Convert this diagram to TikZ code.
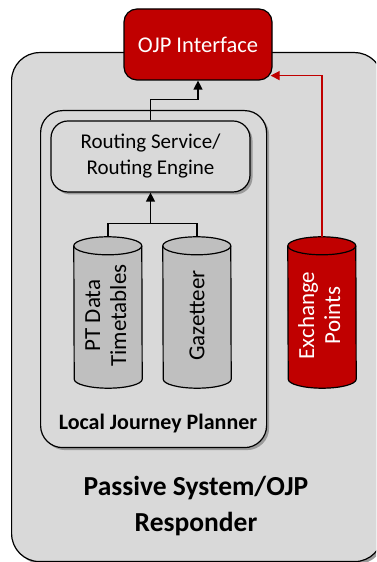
\documentclass[tikz,border=0pt]{standalone}
\usepackage{fontspec}
\setmainfont{Carlito}
\usetikzlibrary{arrows.meta,shadows,calc}
\definecolor{bg}{HTML}{D9D9D9}
\definecolor{cylgrey}{HTML}{BFBFBF}
\definecolor{ojpred}{HTML}{C00000}
\definecolor{shadowgrey}{HTML}{9A9A9A}
\begin{document}
\begin{tikzpicture}[x=1pt,y=1pt,
  boxline/.style={draw=black, line width=1.2pt},
  shadowed/.style={drop shadow={shadow xshift=2.5pt, shadow yshift=-2.5pt, fill=shadowgrey, opacity=1}},
  outerbox/.style={boxline, fill=bg, rounded corners=28pt, shadowed, inner sep=0pt, minimum width=371pt, minimum height=509pt},
  ljpbox/.style={boxline, fill=bg, rounded corners=22pt, shadowed, inner sep=0pt, minimum width=226pt, minimum height=337pt},
  routbox/.style={boxline, fill=bg, rounded corners=17pt, shadowed, inner sep=0pt, minimum width=199pt, minimum height=71pt, align=center, font=\fontsize{21}{26}\selectfont},
  ojpbox/.style={boxline, fill=ojpred, rounded corners=13pt, inner sep=0pt, minimum width=148pt, minimum height=71pt, text=white, font=\fontsize{22.5}{26}\selectfont},
  cylholder/.style={inner sep=0pt, minimum width=68pt, minimum height=151pt},
  cyltext/.style={inner sep=0pt, font=\fontsize{23}{26}\selectfont},
  conn/.style={draw=black, line width=1.2pt, -{Triangle[width=9pt,length=9pt]}},
  plainline/.style={draw=black, line width=1.2pt},
  redconn/.style={draw=ojpred, line width=1.2pt, -{Triangle[width=9pt,length=9pt]}}
]
\useasboundingbox (0,0) rectangle (376,562);
\clip (0,0) rectangle (376,562);
\fill[white] (0,0) rectangle (376,562);
% outer box
\node[outerbox, anchor=north west] (outer) at (11,510) {};
% local journey planner box
\node[ljpbox, anchor=north west] (ljp) at (40,452) {};
% routing box
\node[routbox] (rout) at (150.5,405.5) {Routing Service/\\Routing Engine};
% OJP interface
\node[ojpbox] (ojp) at (198,517.5) {OJP Interface};
% cylinders
\node[cylholder] (ptd) at (108,249.5) {};
\node[cylholder] (gaz) at (197,249.5) {};
\node[cylholder] (exch) at (322,249.5) {};
\foreach \n/\c in {ptd/cylgrey, gaz/cylgrey, exch/ojpred}{
  \draw[boxline, fill=\c] ($(\n.north west)+(0,-9)$) arc[start angle=180,end angle=0,x radius=34,y radius=9]
     -- ($(\n.south east)+(0,9)$) arc[start angle=0,end angle=-180,x radius=34,y radius=9] -- cycle;
  \draw[boxline] ($(\n.north west)+(0,-9)$) arc[start angle=180,end angle=360,x radius=34,y radius=9];
}
\node[cyltext] (ptdtext) at ($(ptd.center)+(0,-3)$) {\rotatebox{90}{\begin{tabular}{@{}c@{}}PT Data\\[0pt]Timetables\end{tabular}}};
\node[cyltext] (gaztext) at ($(gaz.center)+(0,-3)$) {\rotatebox{90}{Gazetteer}};
\node[cyltext, text=white] (exchtext) at ($(exch.center)+(0,-3)$) {\rotatebox{90}{\begin{tabular}{@{}c@{}}Exchange\\[0pt]Points\end{tabular}}};
% connectors
\draw[plainline] (ptd.north) -- ++(0,13) -| (gaz.north);
\coordinate (join) at (150.5,338);
\draw[conn] (join) -- (rout.south);
\draw[conn] (rout.north) -- ++(0,21) -| (ojp.south);
\draw[redconn] (exch.north) |- ([yshift=5pt,xshift=-2pt]ojp.south east);
% labels
\node[font=\bfseries\fontsize{22}{26}\selectfont] (ljplabel) at (158,138) {Local Journey Planner};
\node[font=\bfseries\fontsize{27.5}{36}\selectfont, align=center] (pslabel) at (196,56) {Passive System/OJP\\Responder};
\end{tikzpicture}
\end{document}
